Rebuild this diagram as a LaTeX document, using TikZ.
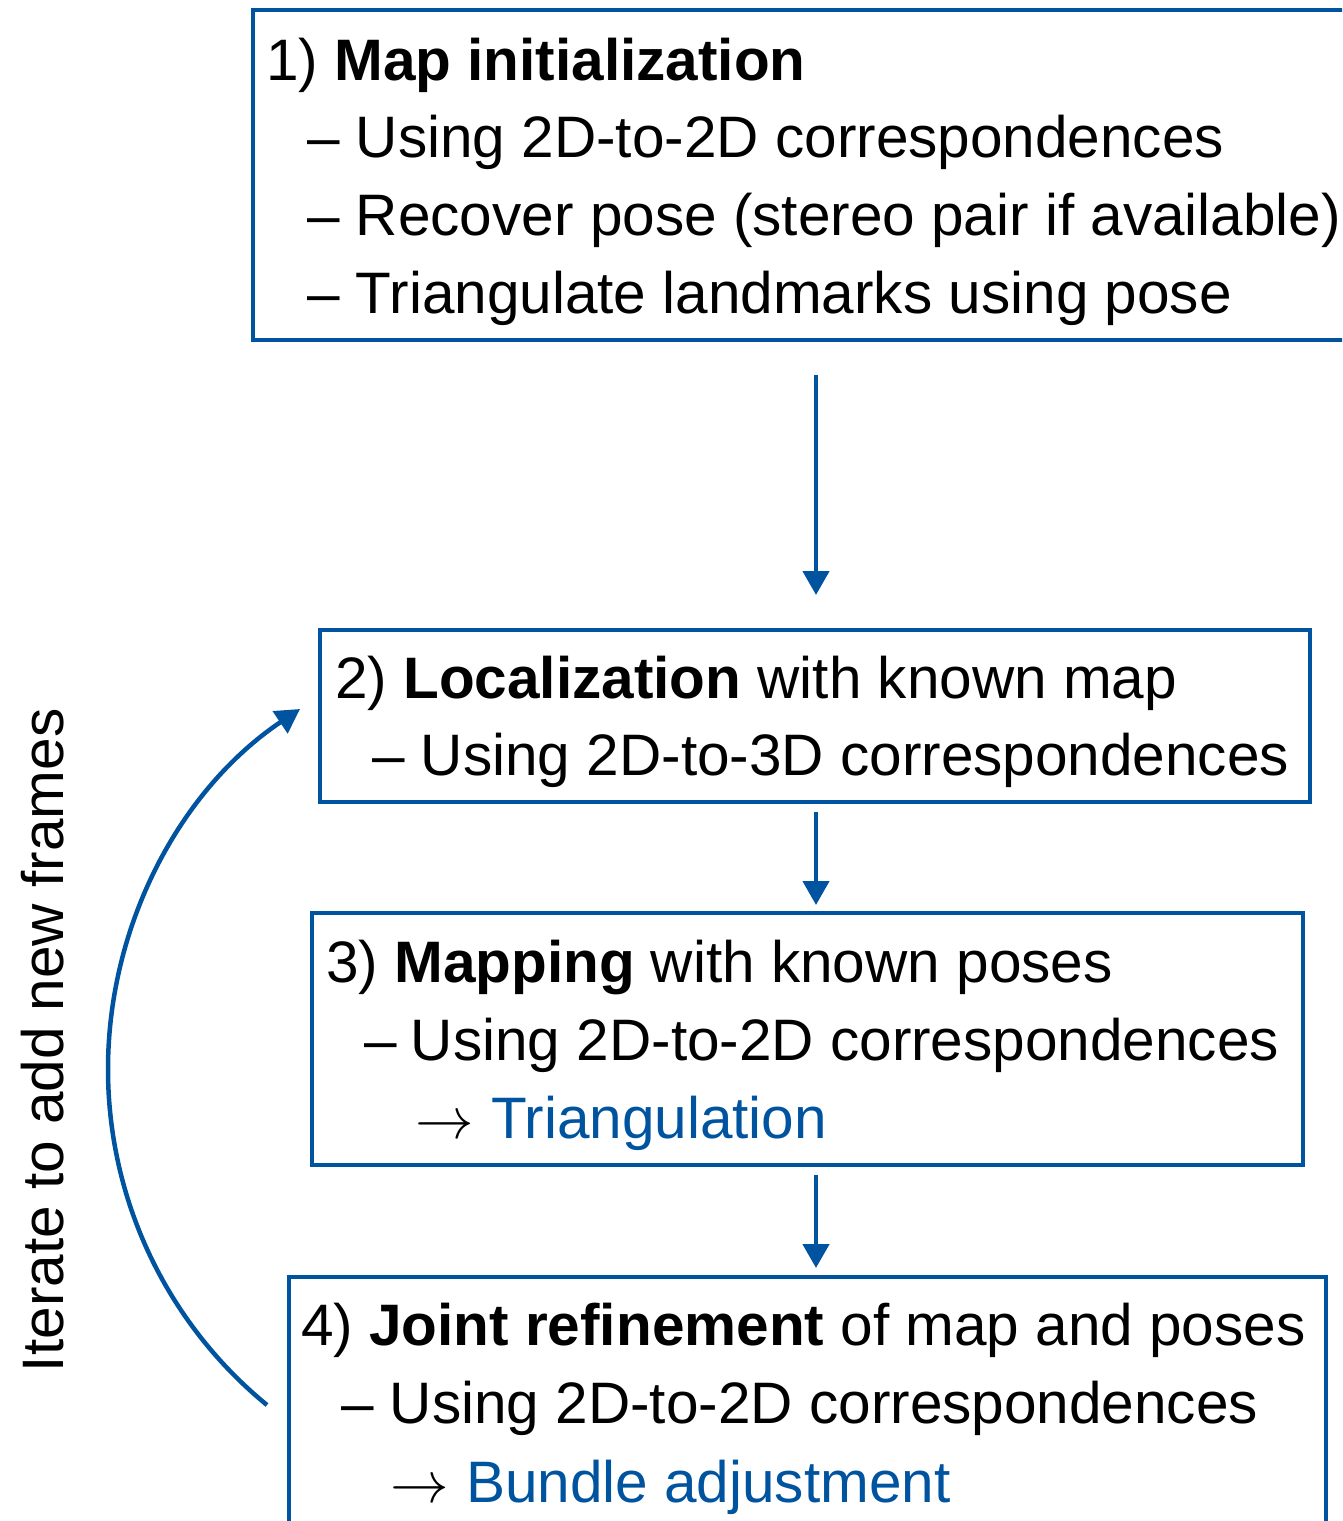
\documentclass[tikz,border=0pt]{standalone}
\usepackage{fontspec}
\setmainfont{Liberation Sans}
\usetikzlibrary{arrows.meta}
\definecolor{flowblue}{RGB}{0,84,159}
\newcommand{\bigarrow}{\scalebox{5.85}{\fontsize{10}{12}\selectfont$\rightarrow$}}
\begin{document}
\begin{tikzpicture}[x=1pt,y=-1pt,
  box/.style={draw=flowblue, line width=4.5pt, inner sep=0pt, outer sep=0pt},
  txt/.style={anchor=base west, inner sep=0pt, outer sep=0pt, font=\fontsize{58.5}{70}\selectfont},
  flow/.style={draw=flowblue, line width=4.5pt, -{Triangle[length=24pt,width=26pt]}},
  hl/.style={text=flowblue}]
\useasboundingbox (0,0) rectangle (1342,1521);
\clip (0,0) rectangle (1342,1521);

% boxes
\node[box, minimum width=1117pt, minimum height=330pt] (b1) at (811.5,175) {};
\node[box, minimum width=990pt, minimum height=172pt] (b2) at (815,716) {};
\node[box, minimum width=991pt, minimum height=252pt] (b3) at (807.5,1039) {};
\node[box, minimum width=1037pt, minimum height=323pt] (b4) at (807.5,1438.5) {};

% box 1 text
\node[txt] (t1) at (266,80) {1) \textbf{Map initialization}};
\node[txt] (t1a) at (307,157) {\makebox[49pt][l]{–}Using 2D-to-2D correspondences};
\node[txt] (t1b) at (307,235) {\makebox[49pt][l]{–}Recover pose (stereo pair if available)};
\node[txt] (t1c) at (307,313) {\makebox[49pt][l]{–}Triangulate landmarks using pose};

% box 2 text
\node[txt] (t2) at (335,698) {2) \textbf{Localization} with known map};
\node[txt] (t2a) at (372,775) {\makebox[49pt][l]{–}Using 2D-to-3D correspondences};

% box 3 text
\node[txt] (t3) at (326,982) {3) \textbf{Mapping} with known poses};
\node[txt] (t3a) at (364,1060) {\makebox[47pt][l]{–}Using 2D-to-2D correspondences};
\node[txt] (t3b) at (415,1138) {\makebox[76pt][l]{\bigarrow}\textcolor{flowblue}{Triangulation}};

% box 4 text
\node[txt] (t4) at (301,1345) {4) \textbf{Joint refinement} of map and poses};
\node[txt] (t4a) at (341,1423) {\makebox[49pt][l]{–}Using 2D-to-2D correspondences};
\node[txt] (t4b) at (390,1502) {\makebox[76pt][l]{\bigarrow}\textcolor{flowblue}{Bundle adjustment}};

% side label
\node[txt, rotate=90] (it) at (63,1372) {Iterate to add new frames};

% vertical flow arrows
\coordinate (ax) at (816,0);
\draw[flow, shorten <=35pt, shorten >=35pt] (b1.south -| ax) -- (b2.north -| ax);
\draw[flow, shorten <=10pt, shorten >=8pt] (b2.south -| ax) -- (b3.north -| ax);
\draw[flow, shorten <=10pt, shorten >=9pt] (b3.south -| ax) -- (b4.north -| ax);

% iteration arrow (circular arc, two cubic segments)
\coordinate (cs) at (267,1405);
\coordinate (cm) at (108,1069.2);
\coordinate (ce) at (300,709);
\draw[flow] (cs) .. controls (166.3,1322.6) and (108,1199.3) .. (cm)
               .. controls (108,924.7) and (180.1,789.6) .. (ce);
\end{tikzpicture}
\end{document}
